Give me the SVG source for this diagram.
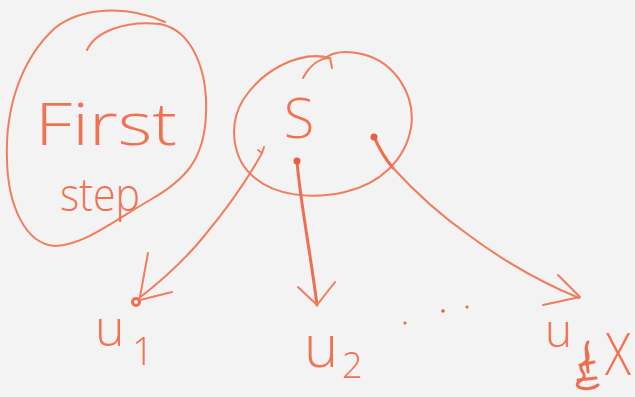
<svg xmlns="http://www.w3.org/2000/svg" width="635" height="397" viewBox="0 0 635 397">
  <style>
    .ink { fill: none; stroke: #ef7d5e; stroke-width: 2; stroke-linecap: round; stroke-linejoin: round; }
    .ink-bold { fill: none; stroke: #ee6f4f; stroke-width: 3; stroke-linecap: round; stroke-linejoin: round; }
    .dot { fill: #ea5d40; }
    .hand { font-family: "Open Sans", "Liberation Sans", "DejaVu Sans", sans-serif; font-weight: 300; fill: #f07252; }
  </style>
  <rect width="635" height="397" fill="#f3f3f3"/>

  <!-- looped note on the left -->
  <g id="first-step">
    <path class="ink" d="M87,50 C95,32 125,20 160,24 C192,30 208,70 206,115 C204,160 185,180 150,200 C115,220 85,245 55,246 C25,244 8,205 7,160 C5,110 20,60 55,28 C80,8 125,4 165,22"/>
    <text class="hand" x="35" y="145" font-size="58" textLength="142" lengthAdjust="spacingAndGlyphs">First</text>
    <text class="hand" x="60" y="211" font-size="46" textLength="80" lengthAdjust="spacingAndGlyphs">step</text>
  </g>

  <!-- source node -->
  <g id="node-s">
    <path class="ink" d="M330,58 C300,50 262,70 243,100 C228,125 232,160 255,178 C275,195 310,200 345,192 C380,184 405,160 411,128 C416,95 395,62 362,54 C345,50 333,52 325,58"/>
    <path class="ink" d="M303,78 C310,65 320,58 330,58 L332,68"/>
    <text class="hand" x="299" y="138" font-size="56" text-anchor="middle">S</text>
  </g>

  <!-- edges from S -->
  <g id="connectors">
    <path class="ink" d="M262,153 C250,175 230,205 205,235 C185,260 160,282 138,299"/>
    <path class="ink" d="M148,253 L140,297 M172,292 L140,300"/>
    <circle class="ink-bold" cx="136" cy="302" r="3.5"/>
    <path class="ink" d="M258,150 L262,153 L264,147"/>

    <path class="ink-bold" d="M297,161 C300,200 310,250 317,305"/>
    <path class="ink" d="M298,287 L317,305 L335,282"/>
    <circle class="dot" cx="297" cy="161" r="3.5"/>

    <path class="ink-bold" d="M374,137 C380,150 386,160 393,168"/>
    <path class="ink" d="M393,168 C415,192 440,215 470,236 C505,262 540,282 579,298"/>
    <path class="ink" d="M558,275 L580,297 L543,305"/>
    <circle class="dot" cx="374" cy="137" r="3.5"/>
  </g>

  <!-- targets -->
  <g id="node-u1">
    <text class="hand" x="95" y="346" font-size="50">u</text>
    <text class="hand" x="132" y="365" font-size="38">1</text>
  </g>
  <g id="node-u2">
    <text class="hand" x="304" y="367" font-size="58">u</text>
    <text class="hand" x="342" y="378" font-size="36">2</text>
  </g>
  <g id="ellipsis">
    <circle class="dot" cx="405" cy="323" r="1.5"/>
    <circle class="dot" cx="443" cy="311" r="1.8"/>
    <circle class="dot" cx="467" cy="307" r="1.5"/>
  </g>
  <g id="node-ux">
    <text class="hand" x="545" y="347" font-size="46">u</text>
    <path class="ink-bold" d="M588,342 C582,350 594,356 584,363 C574,370 592,374 580,381 C570,388 590,392 598,385 M586,348 L588,372 M580,365 L594,362 M578,380 L596,378"/>
    <text class="hand" x="605" y="375" font-size="58" textLength="26" lengthAdjust="spacingAndGlyphs">X</text>
  </g>
</svg>
